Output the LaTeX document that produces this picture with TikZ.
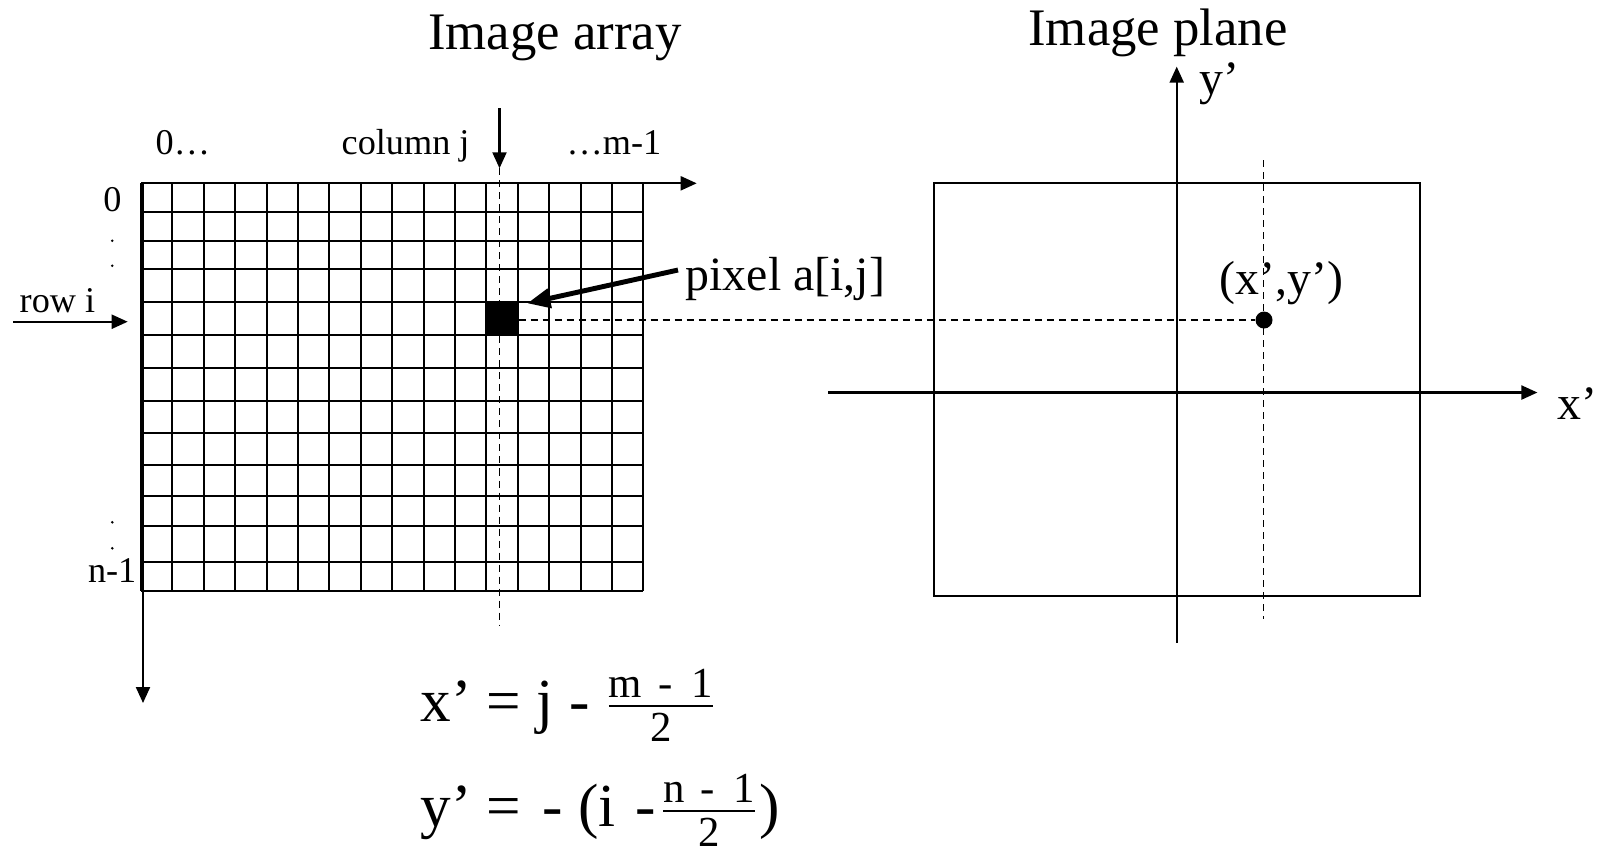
\documentclass[tikz,border=0pt]{standalone}
\usepackage{amsmath}
\usepackage{fontspec}
\setmainfont{Liberation Serif}
\usepackage{tikz}
\usetikzlibrary{arrows.meta, positioning}
\tikzset{
    grid_line/.style={draw=black, line width=0.6pt},
    frame_box/.style={draw=black, line width=0.6pt, inner sep=0pt},
    axis_arrow/.style={-{Triangle[length=1.6mm, width=1.4mm]}, line width=0.6pt},
    dash_line/.style={dash pattern=on 0.7mm off 0.5mm, line width=0.5pt},
    ptr_arrow/.style={-{Triangle[length=2.3mm, width=1.9mm]}, line width=1.4pt},
    lbl_small/.style={inner sep=0pt, font=\fontsize{10.3}{12}\selectfont},
    lbl_mid/.style={inner sep=0pt, font=\fontsize{13.6}{16}\selectfont},
    lbl_title/.style={inner sep=0pt, font=\fontsize{15}{18}\selectfont},
    lbl_eq/.style={inner sep=0pt, font=\fontsize{17.4}{20}\selectfont}
}

\begin{document}
\begin{tikzpicture}[x=0.01cm, y=-0.01cm]
    \useasboundingbox (0,0) rectangle (1607,850);

    % Titles
    \node[lbl_title, anchor=base] (arr_title) at (555,49) {Image array};
    \node[lbl_title, anchor=base] (pln_title) at (1158,45) {Image plane};

    % Image array grid
    \foreach \k in {0,...,16}
        \draw[grid_line] ({141+31.4*\k},183.3) -- ({141+31.4*\k},590.7);
    \foreach \yy in {183.3,211.7,240.7,269.3,301.7,335,368.3,401,433.3,465,496,526,561.7,590.7}
        \draw[grid_line] (141,\yy) -- (643.4,\yy);
    \node[fill=black, inner sep=0pt, minimum width=0.314cm, minimum height=0.333cm] (pix) at (502.1,318.35) {};

    % Array axes
    \coordinate (orig) at (141,183.3);
    \coordinate (col_end) at (696.7,183.3);
    \coordinate (row_top) at (143,183.3);
    \coordinate (row_end) at (143,703);
    \draw[axis_arrow] (orig) -- (col_end);
    \draw[axis_arrow] (row_top) -- (row_end);

    % Column labels
    \node[lbl_small, anchor=base west] (col_first) at (155,154) {0…};
    \node[lbl_small, anchor=base west] (col_j) at (341,154) {column j};
    \node[lbl_small, anchor=base west] (col_last) at (566,154) {…m-1};

    % Row labels
    \node[lbl_small, anchor=base] (row_first) at (112.5,211.5) {0};
    \node[lbl_small, anchor=base east] (row_last) at (137,582) {n-1};
    \node[lbl_small, anchor=base west] (row_i) at (19,312) {row i};
    \foreach \yy in {240.7,265.7,522.3,548.3}
        \fill (112.3,\yy) circle (1.4);

    % Column j marker
    \coordinate (cj_top) at (499.5,108);
    \coordinate (cj_tip) at (499.5,168.3);
    \coordinate (cj_bot) at (499.5,625);
    \draw[axis_arrow] (cj_top) -- (cj_tip);
    \draw[dash_line] (cj_tip) -- (cj_bot);

    % Row i marker
    \coordinate (ri_start) at (13,321.7);
    \coordinate (ri_tip) at (127.7,321.7);
    \draw[axis_arrow] (ri_start) -- (ri_tip);

    % Pixel pointer
    \node[lbl_mid, anchor=base west] (pix_lbl) at (685,290) {pixel a[i,j]};
    \coordinate (ptr_start) at (678,270);
    \coordinate (ptr_tip) at (527.3,303.3);
    \draw[ptr_arrow] (ptr_start) -- (ptr_tip);

    % Image plane
    \node[frame_box, minimum width=4.858cm, minimum height=4.12cm] (plane) at (1176.6,389.5) {};
    \coordinate (x_left) at (828,392.5);
    \coordinate (x_right) at (1537.4,392.5);
    \coordinate (y_bot) at (1176.7,642.6);
    \coordinate (y_top) at (1176.7,66.6);
    \draw[axis_arrow] (x_left) -- (x_right);
    \draw[axis_arrow] (y_bot) -- (y_top);
    \node[lbl_mid, anchor=base west] (x_lbl) at (1557,419) {x’};
    \node[lbl_mid, anchor=base west] (y_lbl) at (1199,94) {y’};

    % Mapped point
    \node[circle, fill=black, inner sep=0pt, minimum size=0.17cm] (pt) at (1264,320) {};
    \coordinate (pt_top) at (1263.5,160);
    \coordinate (pt_bot) at (1263.5,619);
    \draw[dash_line] (pt_top) -- (pt_bot);
    \draw[dash_line] (pix.east |- pt) -- (pt);
    \node[lbl_mid, anchor=base west] (pt_lbl) at (1219,294) {(x’,y’)};

    % Mapping formulas
    \node[lbl_eq, anchor=base west] (eq_x) at (420,721)
        {x’ = j - $\frac{\text{m\kern0.37em-\kern0.44em1}}{\text{2}}$};
    \node[lbl_eq, anchor=base west] (eq_y) at (420,826)
        {y’ = \kern0.1em-\ (i\ \kern0.07em-\kern0.05em$\frac{\text{n\kern0.37em-\kern0.44em1}}{\text{2}}$)};
\end{tikzpicture}
\end{document}
